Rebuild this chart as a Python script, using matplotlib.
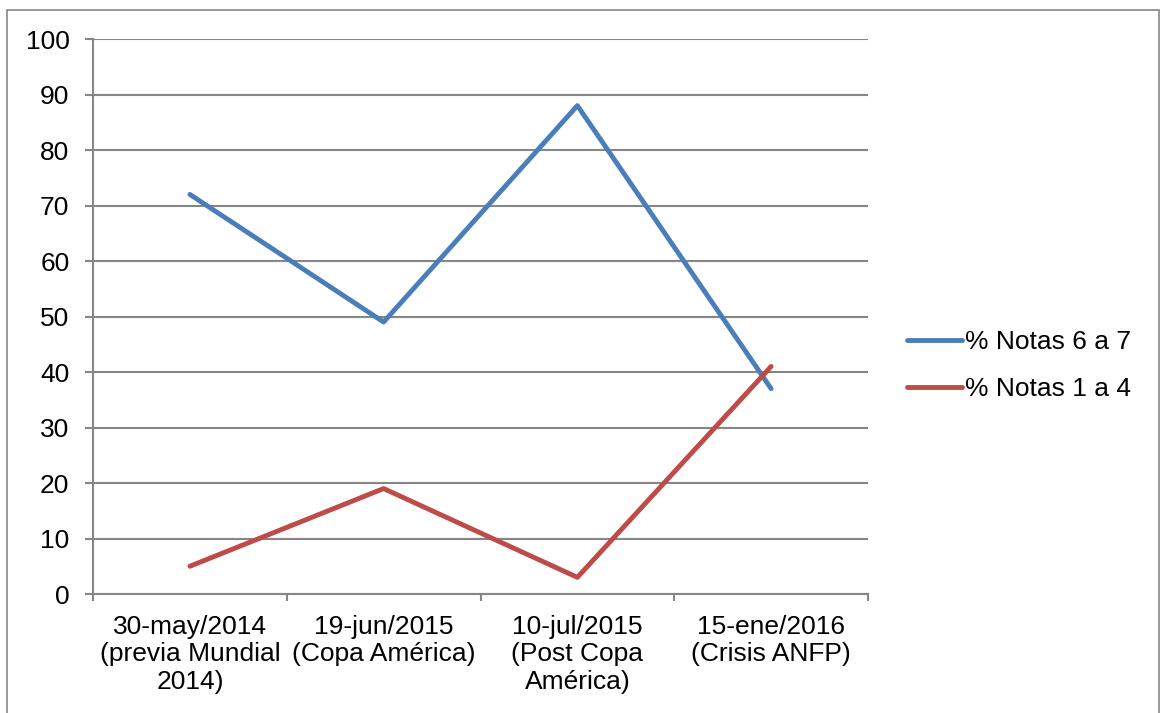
import matplotlib
matplotlib.use("Agg")
import matplotlib.pyplot as plt
from matplotlib.patches import Rectangle

plt.rcParams['font.family'] = ['Liberation Sans', 'DejaVu Sans']

categories = ["30-may/2014\n(previa Mundial\n2014)", "19-jun/2015\n(Copa América)",
              "10-jul/2015\n(Post Copa\nAmérica)", "15-ene/2016\n(Crisis ANFP)"]
notas_6_7 = [72, 49, 88, 37]
notas_1_4 = [5, 19, 3, 41]
yticks = list(range(0, 101, 10))

W, H = 1161, 713
FS = 19
fig = plt.figure(figsize=(W / 100, H / 100), dpi=100)
ax = fig.add_axes([93 / W, 1 - 594 / H, (868 - 93) / W, (594 - 39) / H])

x = list(range(len(categories)))
ax.plot(x, notas_6_7, color='#4A7EBB', lw=3.5, label='% Notas 6 a 7', solid_capstyle='round')
ax.plot(x, notas_1_4, color='#BE4B48', lw=3.5, label='% Notas 1 a 4', solid_capstyle='round')

ax.set_xlim(-0.5, len(categories) - 0.5)
ax.set_ylim(0, 100)
ax.set_yticks(yticks)
ax.set_yticklabels([str(v) for v in yticks], fontsize=FS)
ax.yaxis.grid(True, color='#868686', lw=1.5)
ax.set_axisbelow(True)

ax.set_xticks([i - 0.5 for i in range(len(categories) + 1)], minor=False)
ax.set_xticklabels([])
ax.set_xticks(x, minor=True)
ax.set_xticklabels(categories, minor=True, fontsize=FS, linespacing=1.19)
ax.tick_params(axis='x', which='minor', length=0, pad=15)
ax.tick_params(axis='x', which='major', length=5, color='#868686', width=1.5, direction='out')
ax.tick_params(axis='y', length=6, color='#868686', width=1.5, direction='out', pad=11)

for s in ['top', 'right']:
    ax.spines[s].set_visible(False)
for s in ['left', 'bottom']:
    ax.spines[s].set_color('#868686')
    ax.spines[s].set_linewidth(1.5)

leg = fig.legend(loc='upper left', bbox_to_anchor=(907 / W, 1 - 330 / H), frameon=False,
                 fontsize=FS, handlelength=2.1, handletextpad=0.1, labelspacing=0.89,
                 borderaxespad=0, borderpad=0)

fig.patches.append(Rectangle((7 / W, -0.1), (1159 - 7) / W, 1.1 - 10 / H,
                             transform=fig.transFigure, fill=False, edgecolor='#868686', lw=1.2))

fig.savefig('out.png', dpi=100)
